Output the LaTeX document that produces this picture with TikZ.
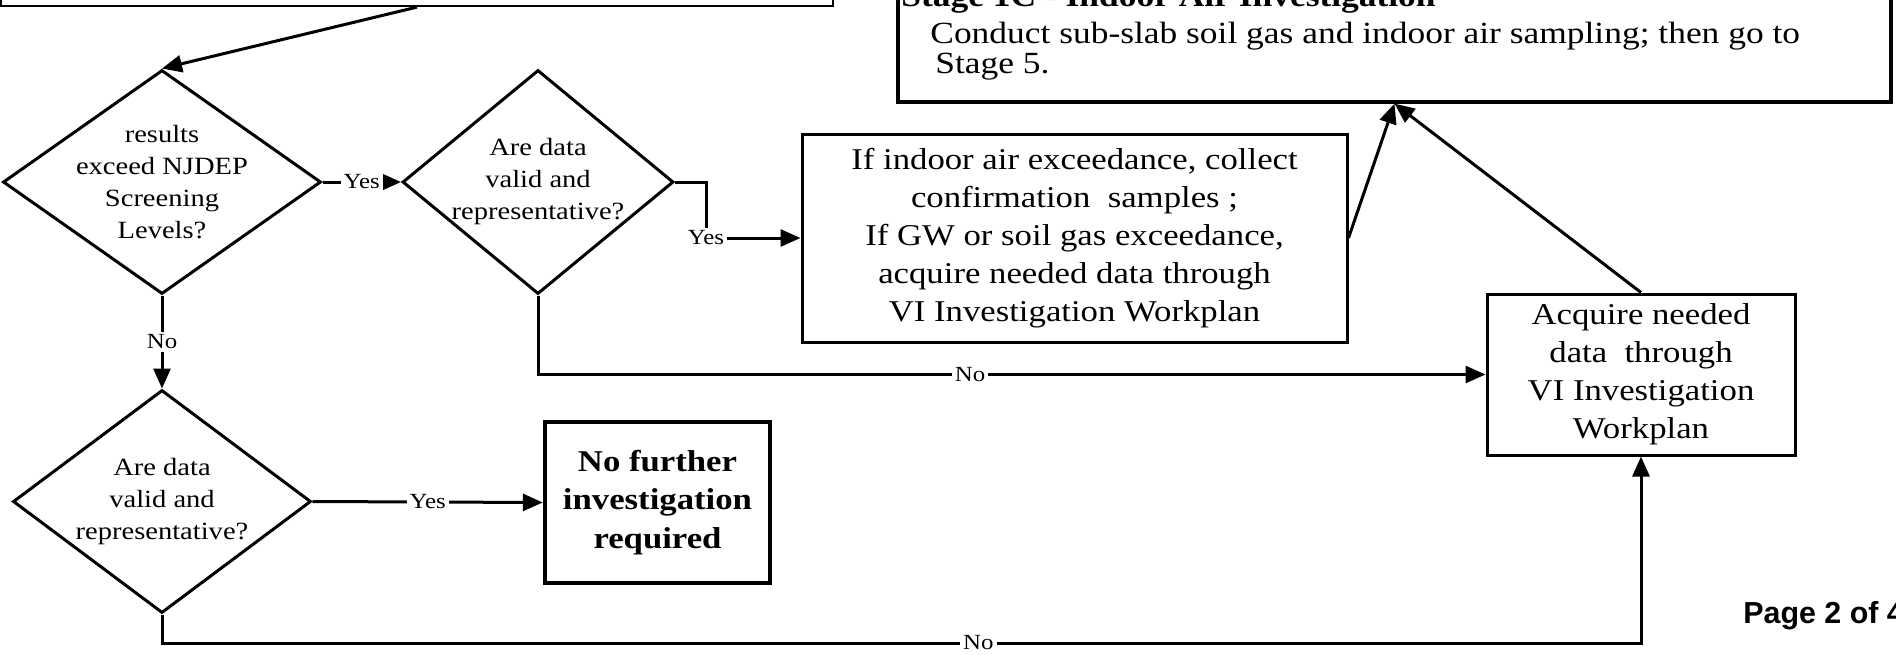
\documentclass[tikz,border=0pt]{standalone}
\usepackage{fontspec}
\setmainfont{Liberation Serif}[FakeStretch=1.15]
\newfontfamily\pagefont{Liberation Sans}
\usetikzlibrary{arrows.meta,shapes.geometric,fit}
\tikzset{
  box/.style={draw, rectangle, line width=1.5pt, inner sep=0pt, align=center},
  bodytext/.style={font=\fontsize{15.1}{19}\selectfont},
  decision/.style={draw, diamond, line width=1.5pt, inner sep=0pt},
  dtext/.style={align=center, inner sep=0pt, font=\fontsize{12.4}{16}\selectfont},
  conn/.style={line width=1.5pt, -{Triangle[length=10pt,width=8.5pt]}},
  lbl/.style={fill=white, inner sep=1.5pt, font=\fontsize{10.8}{12}\selectfont},
  linetext/.style={anchor=base west, inner sep=0pt},
}
\begin{document}
\begin{tikzpicture}[x=0.5pt, y=-0.5pt]
\useasboundingbox (0,0) rectangle (1896,654);
\fill[white] (0,0) rectangle (1896,654);
\clip (0,0) rectangle (1896,654);

% boxes running off the top edge
\node[box, line width=1.1pt, fit={(1,-80) (833,6)}] (prev) {};
\node[box, line width=1.6pt, fit={(898,-80) (1891,102)}] (stage) {};
\node[linetext, font=\bfseries\fontsize{15.4}{19}\selectfont] (stitle) at (901,6)
  {Stage 1C - Indoor Air Investigation};
\node[linetext, font=\fontsize{15.4}{19}\selectfont] (sline1) at (930,43)
  {Conduct sub-slab soil gas and indoor air sampling; then go to};
\node[linetext, font=\fontsize{15.4}{19}\selectfont] (sline2) at (935,73) {Stage 5.};

% process boxes
\node[box, bodytext, minimum width=272.5pt, minimum height=104pt] (ifbox) at (1074.5,238)
  {If indoor air exceedance, collect\\confirmation\ \ samples ;\\If GW or soil gas exceedance,\\acquire needed data through\\VI Investigation Workplan};
\node[box, bodytext, minimum width=154pt, minimum height=80.5pt] (acq) at (1641,374.5)
  {Acquire needed\\data\ \ through\\VI Investigation\\Workplan};
\node[box, line width=2.2pt, font=\bfseries\fontsize{15.1}{19.25}\selectfont,
  minimum width=112.5pt, minimum height=80.5pt] (nofur) at (657.5,502.5)
  {No further\\investigation\\required};

% decisions
\node[decision, minimum width=159pt, minimum height=112pt,
  label={[dtext, name=d1t]center:{results\\exceed NJDEP\\Screening\\Levels?}}] (d1) at (162,182) {};
\node[decision, minimum width=135.5pt, minimum height=112pt,
  label={[dtext, name=d2t]center:{Are data\\valid and\\representative?}}] (d2) at (538,182) {};
\node[decision, minimum width=149pt, minimum height=111.5pt,
  label={[dtext, name=d3t]center:{Are data\\valid and\\representative?}}] (d3) at (162,501.5) {};

% page number
\node[linetext, font=\pagefont\bfseries\fontsize{15.2}{18}\selectfont] (page) at (1743,623) {Page 2 of 4};

% connectors
\draw[conn] (prev.south) -- (d1.north);
\draw[conn] (d1.east) -- node[lbl] {Yes} (d2.west);
\draw[conn] (d2.east) -- ++(31,0) |- node[lbl, pos=0.5] {Yes} (ifbox.west);
\draw[conn] (d2.south) |- node[lbl, pos=0.728] {No} (acq.west);
\draw[conn] (d1.south) -- node[lbl] {No} (d3.north);
\draw[conn] (d3.east) -- node[lbl] {Yes} (nofur.west);
\coordinate (bl) at (162,643);
\draw[conn] (d3.south) -- (bl) -| node[lbl, pos=0.276] {No} (acq.south);
\draw[conn] (ifbox.east) -- (stage.south);
\draw[conn] (acq.north) -- (stage.south);
\end{tikzpicture}
\end{document}
